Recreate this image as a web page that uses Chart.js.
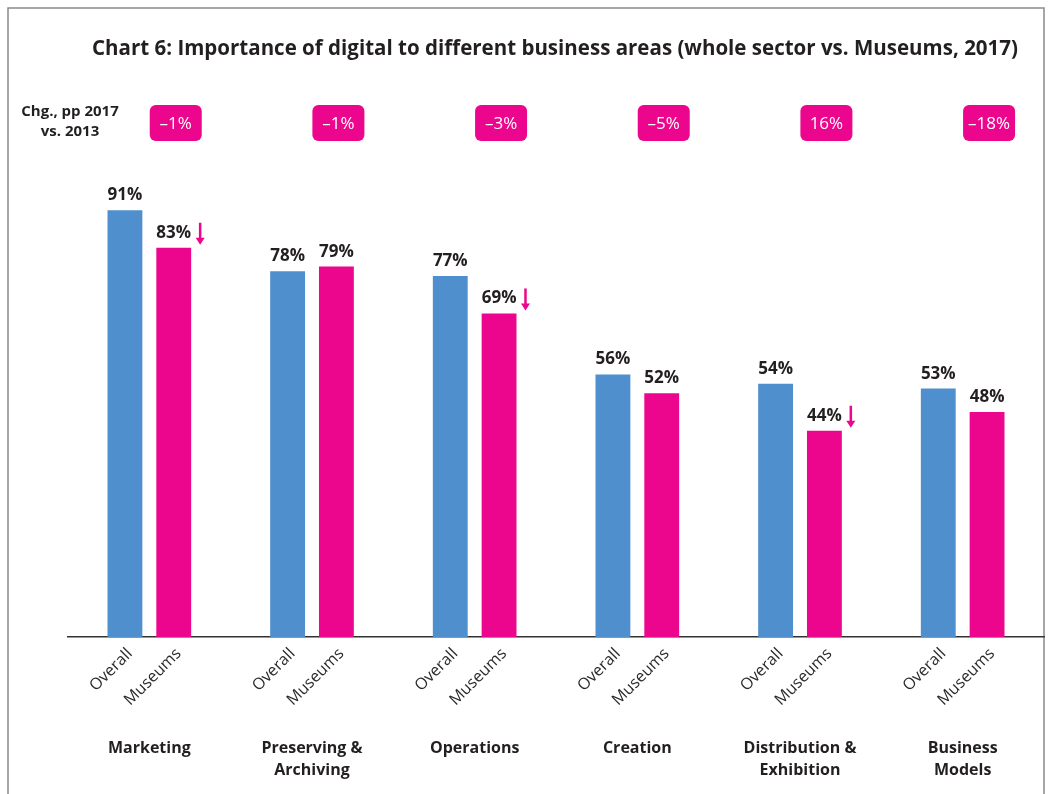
<!DOCTYPE html>
<html>
<head>
<meta charset="utf-8">
<script src="https://cdn.jsdelivr.net/npm/chart.js@4/dist/chart.umd.min.js"></script>
<style>
  html, body { margin: 0; padding: 0; background: #fff; }
  #wrap { width: 1048px; height: 794px; position: relative; }
</style>
</head>
<body>
<div id="wrap"><canvas id="chart"></canvas></div>
<script>
const categories = [["Marketing"], ["Preserving &", "Archiving"], ["Operations"], ["Creation"], ["Distribution &", "Exhibition"], ["Business", "Models"]];
const seriesNames = ["Overall", "Museums"];
const overall = [91, 78, 77, 56, 54, 53];
const museums = [83, 79, 69, 52, 44, 48];
const changePP = [-1, -1, -3, -5, 16, -18];
const museumsDown = [true, false, true, false, true, false];

const BLUE = "#508fcd";
const PINK = "#ec068d";
const DARK = "#231f20";

function fmtChange(v) {
    return (v < 0 ? "\u2013" + Math.abs(v) : String(v)) + "%";
}

// extra drawing: frame, title, labels, badges, arrows
const decor = {
    id: "decor",
    beforeDraw(chart) {
        const ctx = chart.ctx;
        ctx.save();
        ctx.strokeStyle = "#8a8a8a";
        ctx.lineWidth = 1.5;
        ctx.beginPath();
        ctx.moveTo(8, 800);
        ctx.lineTo(8, 8);
        ctx.lineTo(1044, 8);
        ctx.lineTo(1044, 800);
        ctx.stroke();
        ctx.restore();
    },
    afterDatasetsDraw(chart) {
        const ctx = chart.ctx;
        ctx.save();

        // title, squeezed to the reference width
        const title = "Chart 6: Importance of digital to different business areas (whole sector vs. Museums, 2017)";
        ctx.font = "bold 21px 'Open Sans'";
        ctx.fillStyle = DARK;
        ctx.textBaseline = "alphabetic";
        ctx.textAlign = "left";
        const tw = ctx.measureText(title).width;
        ctx.save();
        ctx.translate(92, 55);
        ctx.scale(Math.min(1, 926 / tw), 1);
        ctx.fillText(title, 0, 0);
        ctx.restore();

        // left label for the change row
        ctx.font = "bold 15px 'Open Sans'";
        ctx.textAlign = "center";
        ctx.textBaseline = "middle";
        ctx.fillText("Chg., pp 2017", 70, 112);
        ctx.fillText("vs. 2013", 70, 132);

        const baseY = chart.scales.x.top;
        chart.data.datasets.forEach((ds, di) => {
            const meta = chart.getDatasetMeta(di);
            meta.data.forEach((bar, i) => {
                // value label
                ctx.fillStyle = DARK;
                ctx.font = "bold 17px 'Open Sans'";
                ctx.textAlign = "center";
                ctx.textBaseline = "alphabetic";
                ctx.fillText(ds.data[i] + "%", bar.x, bar.y - 10);

                // rotated series name under the axis
                ctx.save();
                ctx.translate(bar.x + 5, baseY + 14);
                ctx.rotate(-Math.PI / 4);
                ctx.font = "16px 'Open Sans'";
                ctx.fillStyle = "#2a2a2a";
                ctx.textAlign = "right";
                ctx.textBaseline = "middle";
                ctx.fillText(seriesNames[di], 0, 0);
                ctx.restore();

                if (di === 1) {
                    // change badge above the museums bar
                    const bw = 52, bh = 36, bx = bar.x + 2 - bw / 2, by = 105;
                    ctx.fillStyle = PINK;
                    ctx.beginPath();
                    ctx.roundRect(bx, by, bw, bh, 6);
                    ctx.fill();
                    ctx.fillStyle = "#fff";
                    ctx.font = "17px 'Open Sans'";
                    ctx.textAlign = "center";
                    ctx.textBaseline = "middle";
                    ctx.fillText(fmtChange(changePP[i]), bx + bw / 2, by + bh / 2 + 1);

                    // significant decrease arrow
                    if (museumsDown[i]) {
                        const ax = bar.x + bar.width / 2 + 9;
                        const top = bar.y - 25, tip = bar.y - 3;
                        ctx.strokeStyle = PINK;
                        ctx.lineWidth = 2.5;
                        ctx.beginPath();
                        ctx.moveTo(ax, top);
                        ctx.lineTo(ax, tip - 6);
                        ctx.stroke();
                        ctx.fillStyle = PINK;
                        ctx.beginPath();
                        ctx.moveTo(ax - 4.5, tip - 7);
                        ctx.lineTo(ax + 4.5, tip - 7);
                        ctx.lineTo(ax, tip);
                        ctx.closePath();
                        ctx.fill();
                    }
                }
            });
        });
        ctx.restore();
    }
};

new Chart(document.getElementById("chart"), {
    type: "bar",
    data: {
        labels: categories,
        datasets: [
            { label: seriesNames[0], data: overall, backgroundColor: BLUE },
            { label: seriesNames[1], data: museums, backgroundColor: PINK }
        ]
    },
    options: {
        responsive: true,
        maintainAspectRatio: false,
        animation: false,
        categoryPercentage: 0.6,
        barPercentage: 0.714,
        layout: { padding: { left: 68, right: 4, top: 168, bottom: 12 } },
        plugins: {
            legend: { display: false },
            tooltip: { enabled: false }
        },
        scales: {
            x: {
                grid: { display: true, drawOnChartArea: false, drawTicks: true, tickLength: 100, color: "rgba(0,0,0,0)" },
                border: { display: true, color: "#333", width: 1.5 },
                ticks: {
                    padding: 0,
                    autoSkip: false,
                    maxRotation: 0,
                    color: DARK,
                    font: { family: "'Open Sans'", size: 16, weight: "bold", lineHeight: 1.4 }
                }
            },
            y: { display: false, min: 0, max: 100 }
        }
    },
    plugins: [decor]
});
</script>
</body>
</html>
